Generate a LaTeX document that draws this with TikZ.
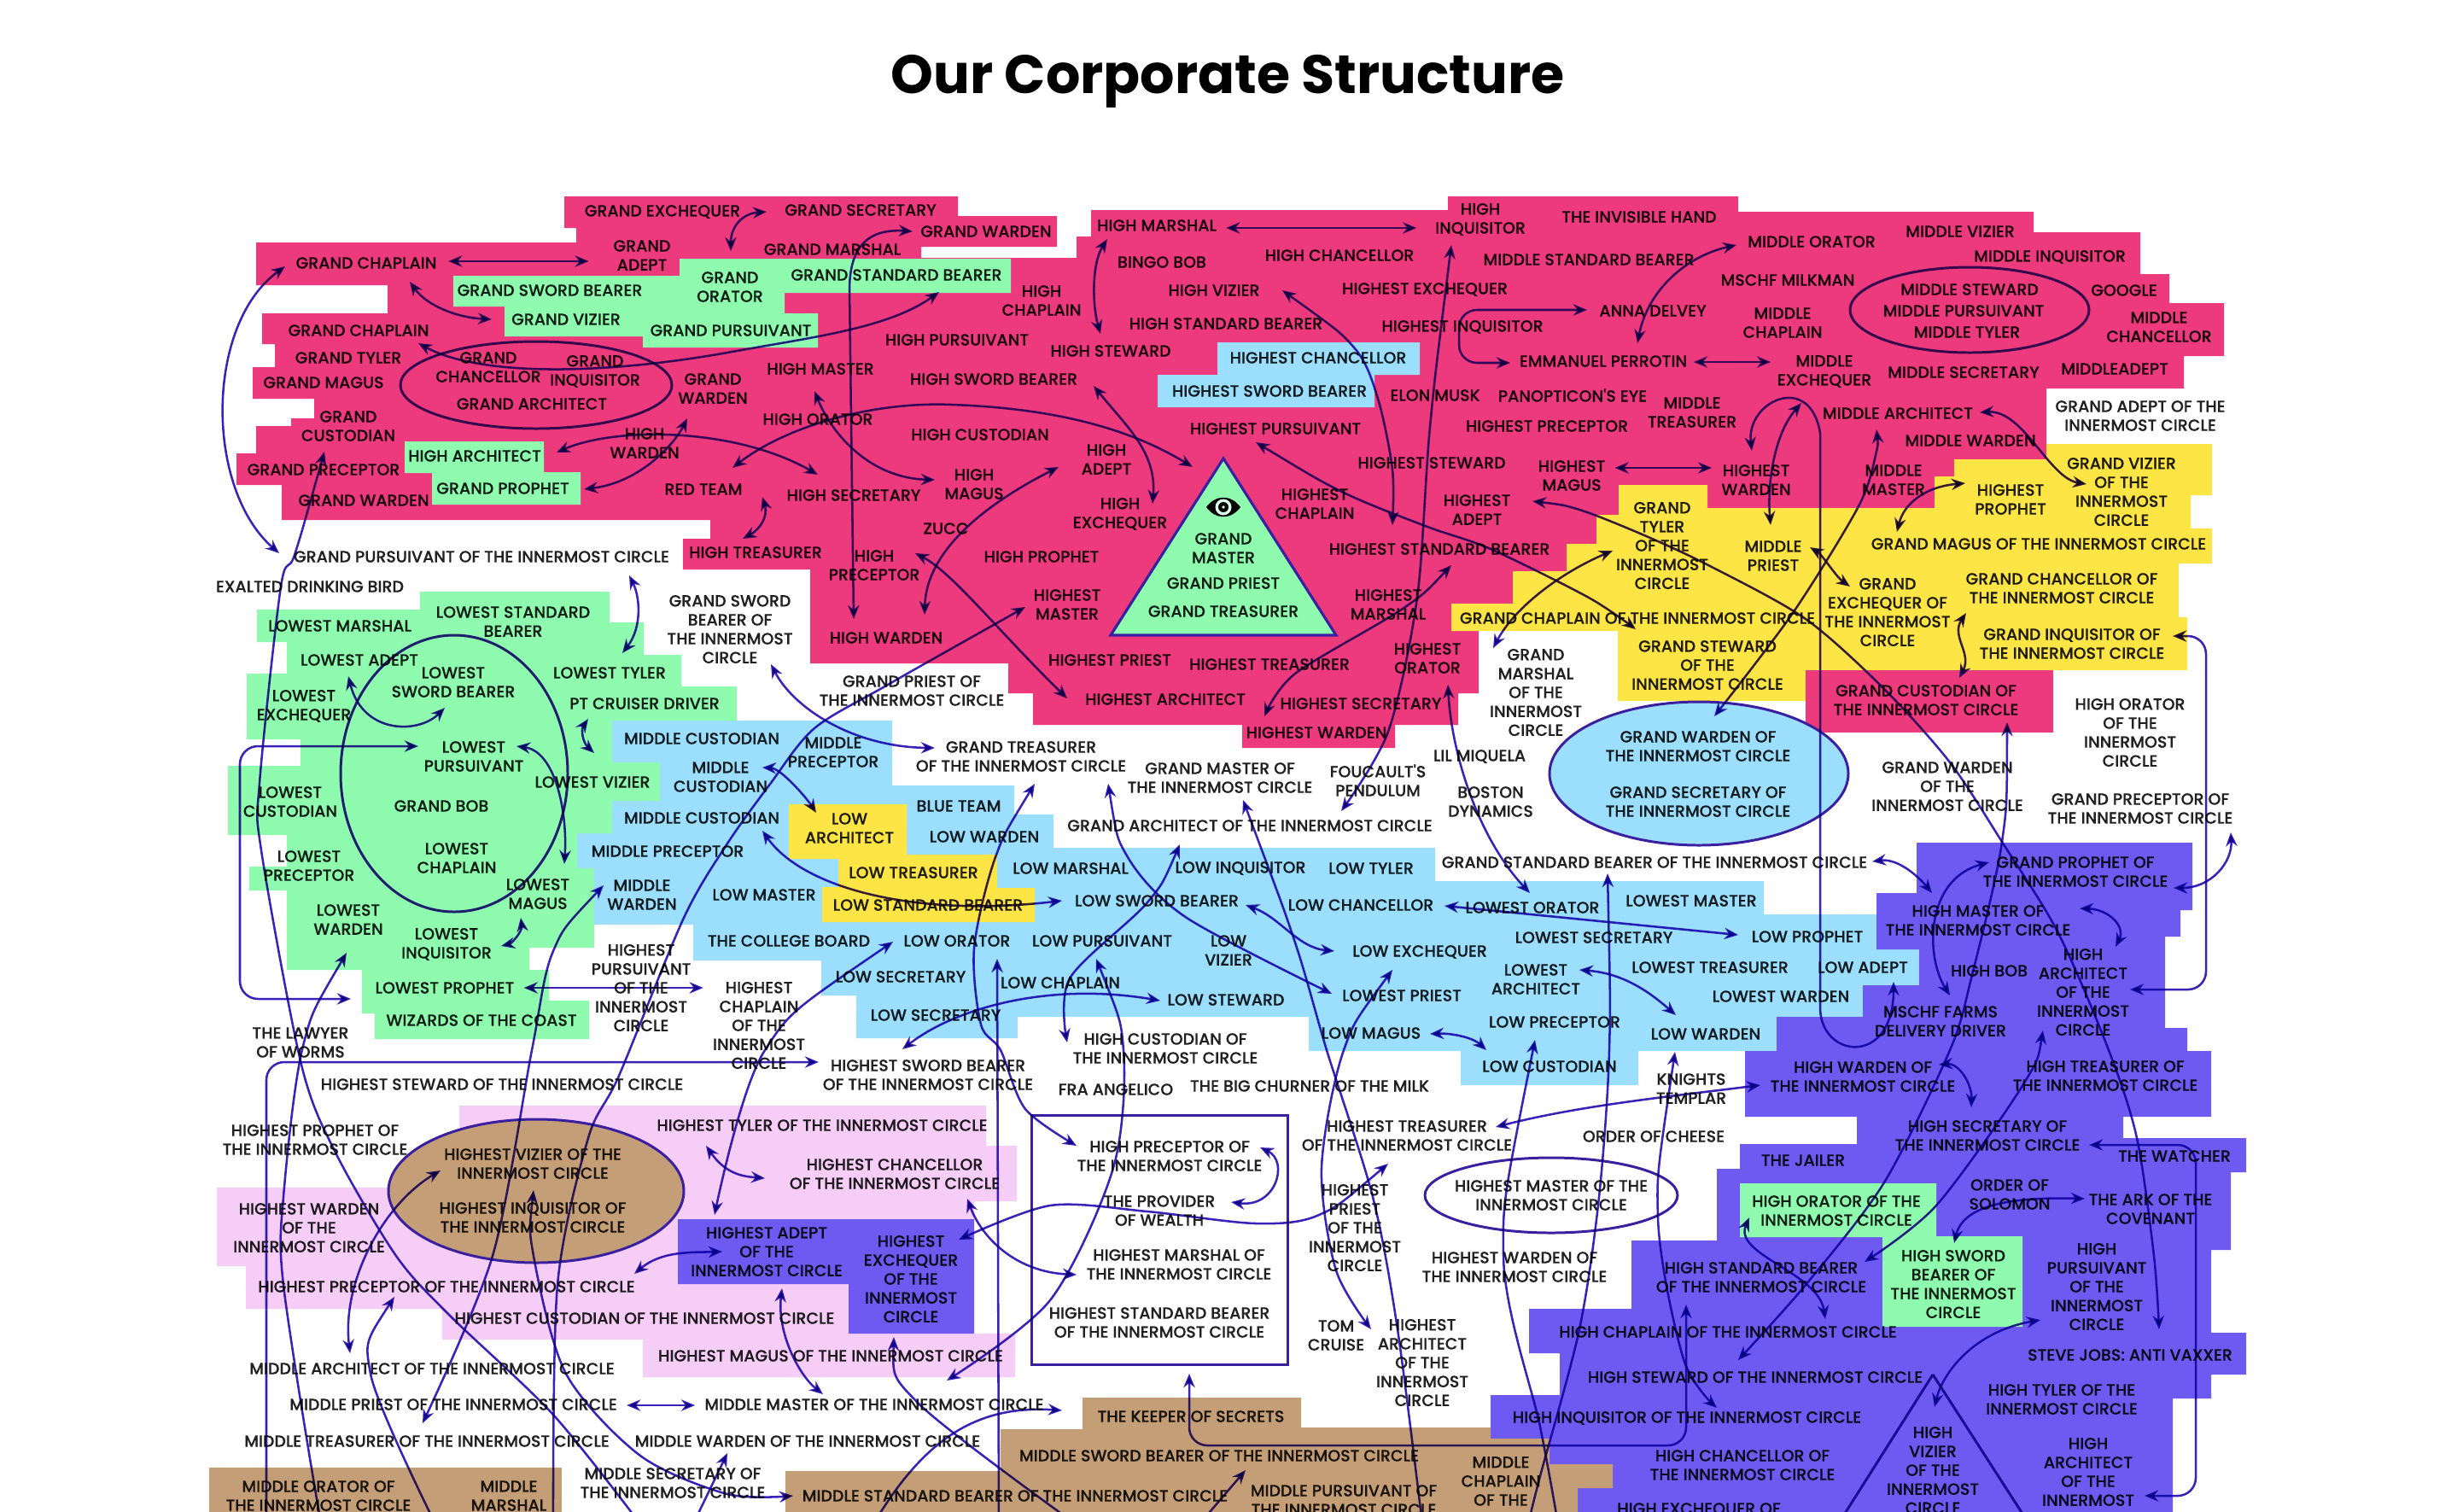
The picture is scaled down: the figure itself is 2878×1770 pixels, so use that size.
\documentclass[tikz,border=0pt]{standalone}
\usepackage{fontspec}
\setmainfont{Poppins}
\newfontfamily\medfont{Poppins Medium}[FakeBold=0.35]
\usetikzlibrary{arrows.meta}
\definecolor{redzone}{HTML}{EC3A7C}
\definecolor{yellowzone}{HTML}{FDE545}
\definecolor{greenzone}{HTML}{8EFBAF}
\definecolor{bluezone}{HTML}{9BDEFD}
\definecolor{violetzone}{HTML}{6E5AF0}
\definecolor{lilaczone}{HTML}{F5CDF6}
\definecolor{tanzone}{HTML}{C49E76}
\definecolor{linkcol}{HTML}{3A22B8}
\definecolor{ringcol}{HTML}{3A20A0}
\definecolor{inkcol}{HTML}{222222}
\tikzset
{
    lbl/.style  = {align=center, inner sep=0pt, text=inkcol, font=\medfont\fontsize{5.4}{6.3}\selectfont},
    link/.style = {draw=linkcol, line width=0.72pt, >={Stealth[length=4.6pt,width=3.8pt]}},
    ring/.style = {draw=ringcol, line width=0.85pt}
}
\begin{document}
\begin{tikzpicture}[x=0.1mm,y=-0.1mm]
\useasboundingbox (0,0) rectangle (2878,1770);
\clip (0,0) rectangle (2878,1770);
\node [inner sep=0pt, font=\bfseries\fontsize{18.05}{21}\selectfont] at (1438,95) (title) {Our Corporate Structure};
% zones
\fill [redzone] (661,230) -- (1122,230) -- (1122,253) -- (1238,253) -- (1238,289) -- (1079,289) -- (1079,302) -- (1261,302) -- (1261,277) -- (1278,277) -- (1278,246) -- (1696,246) -- (1696,230) -- (2036,230) -- (2036,248) -- (2382,248) -- (2382,272) -- (2507,272) -- (2507,321) -- (2541,321) -- (2541,355) -- (2605,355) -- (2605,417) -- (2558,417) -- (2558,455) -- (2397,455) -- (2397,538) -- (2289,538) -- (2289,558) -- (2266,558) -- (2266,595) -- (2000,595) -- (2000,568) -- (1896,568) -- (1896,603) -- (1870,603) -- (1870,650) -- (1800,700) -- (1732,720) -- (1732,812) -- (1708,812) -- (1708,849) -- (1634,849) -- (1634,876) -- (1455,876) -- (1455,849) -- (1210,849) -- (1210,812) -- (1181,812) -- (1181,777) -- (949,777) -- (949,667) -- (800,667) -- (800,631) -- (832,631) -- (832,609) -- (330,609) -- (330,568) -- (277,568) -- (277,531) -- (300,531) -- (300,499) -- (341,499) -- (341,490) -- (368,490) -- (368,467) -- (296,467) -- (296,430) -- (322,430) -- (322,403) -- (307,403) -- (307,367) -- (454,367) -- (454,334) -- (300,334) -- (300,284) -- (675,284) -- (675,267) -- (661,267) -- cycle;
\fill [greenzone] (531,323) -- (796,323) -- (796,303) -- (1184,303) -- (1184,343) -- (919,343) -- (919,367) -- (958,367) -- (958,407) -- (753,407) -- (753,394) -- (591,394) -- (591,359) -- (531,359) -- cycle;
\fill [greenzone] (474,517) -- (637,517) -- (637,553) -- (680,553) -- (680,591) -- (506,591) -- (506,554) -- (474,554) -- cycle;
\fill [bluezone] (1426,401) -- (1663,401) -- (1663,439) -- (1610,439) -- (1610,477) -- (1356,477) -- (1356,439) -- (1426,439) -- cycle;
\fill [yellowzone] (1700,707) -- (1772,707) -- (1772,669) -- (1835,669) -- (1835,637) -- (1870,637) -- (1870,603) -- (1896,603) -- (1896,568) -- (2000,568) -- (2000,595) -- (2266,595) -- (2266,558) -- (2289,558) -- (2289,538) -- (2397,538) -- (2397,520) -- (2591,520) -- (2591,580) -- (2566,580) -- (2566,619) -- (2591,619) -- (2591,660) -- (2552,660) -- (2552,723) -- (2562,723) -- (2562,785) -- (2115,785) -- (2115,821) -- (1895,821) -- (1895,739) -- (1700,739) -- cycle;
\fill [redzone] (2115,785) rectangle (2405,858);
\fill [bluezone] (717,844) -- (1045,844) -- (1045,920) -- (1188,920) -- (1188,954) -- (1234,954) -- (1234,993) -- (1681,993) -- (1681,1032) -- (2066,1032) -- (2066,1071) -- (2198,1071) -- (2198,1112) -- (2248,1112) -- (2248,1154) -- (2182,1154) -- (2182,1191) -- (2081,1191) -- (2081,1231) -- (1919,1231) -- (1919,1271) -- (1711,1271) -- (1711,1231) -- (1533,1231) -- (1533,1191) -- (1192,1191) -- (1192,1216) -- (1003,1216) -- (1003,1166) -- (962,1166) -- (962,1125) -- (812,1125) -- (812,1083) -- (676,1083) -- (676,976) -- (717,976) -- cycle;
\fill [yellowzone] (924,942) -- (1062,942) -- (1062,1001) -- (1168,1001) -- (1168,1040) -- (1212,1040) -- (1212,1080) -- (963,1080) -- (963,1039) -- (982,1039) -- (982,1006) -- (924,1006) -- cycle;
\fill [greenzone] (492,693) -- (714,693) -- (714,729) -- (754,729) -- (754,767) -- (798,767) -- (798,804) -- (863,804) -- (863,844) -- (717,844) -- (717,893) -- (773,893) -- (773,938) -- (717,938) -- (717,976) -- (676,976) -- (676,1017) -- (696,1017) -- (696,1110) -- (620,1110) -- (620,1136) -- (643,1136) -- (643,1172) -- (690,1172) -- (690,1217) -- (439,1217) -- (439,1187) -- (424,1187) -- (424,1136) -- (336,1136) -- (336,1043) -- (292,1043) -- (292,1015) -- (336,1015) -- (336,978) -- (267,978) -- (267,897) -- (352,897) -- (352,866) -- (289,866) -- (289,789) -- (336,789) -- (336,752) -- (301,752) -- (301,714) -- (492,714) -- cycle;
\fill [violetzone] (2245,987) -- (2568,987) -- (2568,1066) -- (2554,1066) -- (2554,1097) -- (2536,1097) -- (2536,1204) -- (2562,1204) -- (2562,1231) -- (2590,1231) -- (2590,1308) -- (2487,1308) -- (2487,1333) -- (2631,1333) -- (2631,1373) -- (2613,1373) -- (2613,1464) -- (2590,1464) -- (2590,1561) -- (2631,1561) -- (2631,1610) -- (2590,1610) -- (2590,1638) -- (2545,1638) -- (2545,1790) -- (1800,1790) -- (1800,1685) -- (1746,1685) -- (1746,1634) -- (1827,1634) -- (1827,1585) -- (1791,1585) -- (1791,1533) -- (1911,1533) -- (1911,1453) -- (2011,1453) -- (2011,1369) -- (2038,1369) -- (2038,1340) -- (2175,1340) -- (2175,1308) -- (2044,1308) -- (2044,1231) -- (2081,1231) -- (2081,1191) -- (2182,1191) -- (2182,1154) -- (2248,1154) -- (2248,1112) -- (2198,1112) -- (2198,1046) -- (2245,1046) -- cycle;
\fill [greenzone] (2038,1386) -- (2268,1386) -- (2268,1448) -- (2369,1448) -- (2369,1554) -- (2205,1554) -- (2205,1449) -- (2038,1449) -- cycle;
\fill [lilaczone] (538,1295) -- (1155,1295) -- (1155,1342) -- (1191,1342) -- (1191,1407) -- (1141,1407) -- (1141,1562) -- (1189,1562) -- (1189,1613) -- (753,1613) -- (753,1569) -- (518,1569) -- (518,1533) -- (288,1533) -- (288,1483) -- (254,1483) -- (254,1391) -- (538,1391) -- cycle;
\fill [violetzone] (794,1428) -- (1141,1428) -- (1141,1562) -- (994,1562) -- (994,1504) -- (794,1504) -- cycle;
\fill [tanzone] (245,1719) rectangle (658,1790);
\fill [tanzone] (920,1723) -- (1172,1723) -- (1172,1674) -- (1268,1674) -- (1268,1637) -- (1524,1637) -- (1524,1672) -- (1746,1672) -- (1746,1685) -- (1815,1685) -- (1815,1715) -- (1889,1715) -- (1889,1743) -- (1848,1743) -- (1848,1790) -- (920,1790) -- cycle;
\filldraw [fill=greenzone, draw=ringcol, line width=0.9pt] (1433,537) -- (1565,744) -- (1301,744) -- cycle;
\fill [black] (1413,594) .. controls (1424,579) and (1442,579) .. (1453,594) .. controls (1442,609) and (1424,609) .. (1413,594) -- cycle;
\fill [greenzone!30!white] (1433,594) circle (9.5);
\fill [black] (1433,594) circle (6);
\fill [greenzone!30!white] (1433,594) circle (1.8);
\filldraw [fill=bluezone, ring] (1990,906) ellipse (175 and 84);
\filldraw [fill=tanzone, ring] (628,1395) ellipse (173 and 84);
\begin{scope}[blend mode=multiply]
\draw [ring] (628,451) ellipse (159 and 51);
\draw [ring] (2307,363) ellipse (140 and 50);
\draw [ring] (532,906) ellipse (133 and 162);
\draw [ring] (1817,1400) ellipse (148 and 44);
\draw [ring] (1208,1306) rectangle (1508,1598);
\draw [ring] (2264,1610) -- (2150,1790);
\draw [ring] (2264,1610) -- (2380,1790);
% labels
\node [lbl] at (776,248) (gexch) {GRAND EXCHEQUER};
\node [lbl] at (1008,246) (gsecr) {GRAND SECRETARY};
\node [lbl] at (752,299) (gadept) {GRAND\\ADEPT};
\node [lbl] at (975,292) (gmarsh) {GRAND MARSHAL};
\node [lbl] at (1155,271) (gwardtop) {GRAND WARDEN};
\node [lbl] at (429,308) (gchapa) {GRAND CHAPLAIN};
\node [lbl] at (644,340) (gsword) {GRAND SWORD BEARER};
\node [lbl] at (855,336) (gorator) {GRAND\\ORATOR};
\node [lbl] at (1050,322) (gstand) {GRAND STANDARD BEARER};
\node [lbl] at (663,374) (gvizier) {GRAND VIZIER};
\node [lbl] at (856,387) (gpurs) {GRAND PURSUIVANT};
\node [lbl] at (420,387) (gchapb) {GRAND CHAPLAIN};
\node [lbl] at (408,419) (gtyler) {GRAND TYLER};
\node [lbl] at (379,448) (gmagus) {GRAND MAGUS};
\node [lbl] at (572,430) (gchanc) {GRAND\\CHANCELLOR};
\node [lbl] at (697,435) (ginq) {GRAND\\INQUISITOR};
\node [lbl] at (623,473) (garch) {GRAND ARCHITECT};
\node [lbl] at (835,455) (gwardb) {GRAND\\WARDEN};
\node [lbl] at (961,432) (hmaster) {HIGH MASTER};
\node [lbl] at (958,491) (horator) {HIGH ORATOR};
\node [lbl] at (755,519) (hwarden) {HIGH\\WARDEN};
\node [lbl] at (408,499) (gcust) {GRAND\\CUSTODIAN};
\node [lbl] at (556,534) (harch) {HIGH ARCHITECT};
\node [lbl] at (379,550) (gprec) {GRAND PRECEPTOR};
\node [lbl] at (589,572) (gproph) {GRAND PROPHET};
\node [lbl] at (426,586) (gwardc) {GRAND WARDEN};
\node [lbl] at (824,573) (redteam) {RED TEAM};
\node [lbl] at (1000,580) (hsecr) {HIGH SECRETARY};
\node [lbl] at (564,652) (gpursi) {GRAND PURSUIVANT OF THE INNERMOST CIRCLE};
\node [lbl] at (885,647) (htreas) {HIGH TREASURER};
\node [lbl] at (363,687) (bird) {EXALTED DRINKING BIRD};
\node [lbl] at (1024,662) (hprec) {HIGH\\PRECEPTOR};
\node [lbl] at (1355,264) (hmarsh) {HIGH MARSHAL};
\node [lbl] at (1734,257) (hinq) {HIGH\\INQUISITOR};
\node [lbl] at (1361,307) (bingo) {BINGO BOB};
\node [lbl] at (1569,299) (hchanc) {HIGH CHANCELLOR};
\node [lbl] at (1920,254) (invis) {THE INVISIBLE HAND};
\node [lbl] at (1861,304) (mstand) {MIDDLE STANDARD BEARER};
\node [lbl] at (1220,352) (hchap) {HIGH\\CHAPLAIN};
\node [lbl] at (1422,340) (hvizier) {HIGH VIZIER};
\node [lbl] at (1669,339) (hexexch) {HIGHEST EXCHEQUER};
\node [lbl] at (1436,379) (hstand) {HIGH STANDARD BEARER};
\node [lbl] at (1713,383) (hexinq) {HIGHEST INQUISITOR};
\node [lbl] at (1121,398) (hpurs) {HIGH PURSUIVANT};
\node [lbl] at (1301,411) (hsteward) {HIGH STEWARD};
\node [lbl] at (1544,419) (hexchanc) {HIGHEST CHANCELLOR};
\node [lbl] at (1164,444) (hsword) {HIGH SWORD BEARER};
\node [lbl] at (1487,458) (hexsword) {HIGHEST SWORD BEARER};
\node [lbl] at (1681,463) (elon) {ELON MUSK};
\node [lbl] at (1842,463) (panop) {PANOPTICON'S EYE};
\node [lbl] at (1494,502) (hexpurs) {HIGHEST PURSUIVANT};
\node [lbl] at (1812,499) (hexprec) {HIGHEST PRECEPTOR};
\node [lbl] at (1148,509) (hcust) {HIGH CUSTODIAN};
\node [lbl] at (1296,538) (hadept) {HIGH\\ADEPT};
\node [lbl] at (1141,567) (hmagus) {HIGH\\MAGUS};
\node [lbl] at (1677,542) (hexstew) {HIGHEST STEWARD};
\node [lbl] at (1841,557) (hexmag) {HIGHEST\\MAGUS};
\node [lbl] at (1540,590) (hexchap) {HIGHEST\\CHAPLAIN};
\node [lbl] at (1730,597) (hexadept) {HIGHEST\\ADEPT};
\node [lbl] at (1312,602) (hexch) {HIGH\\EXCHEQUER};
\node [lbl] at (1108,619) (zucc) {ZUCC};
\node [lbl] at (1220,652) (hproph) {HIGH PROPHET};
\node [lbl] at (1433,642) (gmaster) {GRAND\\MASTER};
\node [lbl] at (1433,683) (gpriest) {GRAND PRIEST};
\node [lbl] at (1433,716) (gtreas) {GRAND TREASURER};
\node [lbl] at (1686,643) (hexstand) {HIGHEST STANDARD BEARER};
\node [lbl] at (1250,708) (hexmast) {HIGHEST\\MASTER};
\node [lbl] at (1626,708) (hexmarsh) {HIGHEST\\MARSHAL};
\node [lbl] at (2122,283) (morator) {MIDDLE ORATOR};
\node [lbl] at (2296,271) (mvizier) {MIDDLE VIZIER};
\node [lbl] at (2401,301) (minq) {MIDDLE INQUISITOR};
\node [lbl] at (2094,328) (milkman) {MSCHF MILKMAN};
\node [lbl] at (1936,364) (anna) {ANNA DELVEY};
\node [lbl] at (2088,378) (mchap) {MIDDLE\\CHAPLAIN};
\node [lbl] at (2307,339) (mstew) {MIDDLE STEWARD};
\node [lbl] at (2300,364) (mpurs) {MIDDLE PURSUIVANT};
\node [lbl] at (2304,389) (mtyler) {MIDDLE TYLER};
\node [lbl] at (2488,340) (google) {GOOGLE};
\node [lbl] at (2529,383) (mchanc) {MIDDLE\\CHANCELLOR};
\node [lbl] at (1878,423) (emmanuel) {EMMANUEL PERROTIN};
\node [lbl] at (2137,435) (mexch) {MIDDLE\\EXCHEQUER};
\node [lbl] at (2300,436) (msecr) {MIDDLE SECRETARY};
\node [lbl] at (2477,432) (madept) {MIDDLEADEPT};
\node [lbl] at (1982,483) (mtreas) {MIDDLE\\TREASURER};
\node [lbl] at (2223,484) (march) {MIDDLE ARCHITECT};
\node [lbl] at (2308,516) (mward) {MIDDLE WARDEN};
\node [lbl] at (2507,487) (giadept) {GRAND ADEPT OF THE\\INNERMOST CIRCLE};
\node [lbl] at (2485,576) (givizier) {GRAND VIZIER\\OF THE\\INNERMOST\\CIRCLE};
\node [lbl] at (2057,562) (hexward) {HIGHEST\\WARDEN};
\node [lbl] at (2218,562) (mmaster) {MIDDLE\\MASTER};
\node [lbl] at (2355,585) (hexproph) {HIGHEST\\PROPHET};
\node [lbl] at (1947,639) (gityler) {GRAND\\TYLER\\OF THE\\INNERMOST\\CIRCLE};
\node [lbl] at (2077,651) (mpriest) {MIDDLE\\PRIEST};
\node [lbl] at (2388,637) (gimagus) {GRAND MAGUS OF THE INNERMOST CIRCLE};
\node [lbl] at (2211,717) (giexch) {GRAND\\EXCHEQUER OF\\THE INNERMOST\\CIRCLE};
\node [lbl] at (2415,689) (gichanc) {GRAND CHANCELLOR OF\\THE INNERMOST CIRCLE};
\node [lbl] at (1918,724) (gichap) {GRAND CHAPLAIN OF THE INNERMOST CIRCLE};
\node [lbl] at (2427,754) (giinq) {GRAND INQUISITOR OF\\THE INNERMOST CIRCLE};
\node [lbl] at (2000,779) (gistew) {GRAND STEWARD\\OF THE\\INNERMOST CIRCLE};
\node [lbl] at (2256,820) (gicust) {GRAND CUSTODIAN OF\\THE INNERMOST CIRCLE};
\node [lbl] at (2495,858) (hiorator) {HIGH ORATOR\\OF THE\\INNERMOST\\CIRCLE};
\node [lbl] at (1989,874) (giwarda) {GRAND WARDEN OF\\THE INNERMOST CIRCLE};
\node [lbl] at (1989,939) (gisecr) {GRAND SECRETARY OF\\THE INNERMOST CIRCLE};
\node [lbl] at (2281,921) (giwardb) {GRAND WARDEN\\OF THE\\INNERMOST CIRCLE};
\node [lbl] at (2507,947) (giprec) {GRAND PRECEPTOR OF\\THE INNERMOST CIRCLE};
\node [lbl] at (1938,1010) (gistand) {GRAND STANDARD BEARER OF THE INNERMOST CIRCLE};
\node [lbl] at (2431,1021) (giproph) {GRAND PROPHET OF\\THE INNERMOST CIRCLE};
\node [lbl] at (1981,1055) (lomast) {LOWEST MASTER};
\node [lbl] at (2317,1078) (himast) {HIGH MASTER OF\\THE INNERMOST CIRCLE};
\node [lbl] at (2117,1097) (lproph) {LOW PROPHET};
\node [lbl] at (1867,1098) (losecr) {LOWEST SECRETARY};
\node [lbl] at (2003,1133) (lotreas) {LOWEST TREASURER};
\node [lbl] at (2182,1133) (ladept) {LOW ADEPT};
\node [lbl] at (2086,1167) (loward) {LOWEST WARDEN};
\node [lbl] at (2330,1137) (hbob) {HIGH BOB};
\node [lbl] at (2440,1162) (hiarch) {HIGH\\ARCHITECT\\OF THE\\INNERMOST\\CIRCLE};
\node [lbl] at (2273,1196) (farms) {MSCHF FARMS\\DELIVERY DRIVER};
\node [lbl] at (1998,1211) (lward) {LOW WARDEN};
\node [lbl] at (601,728) (lostand) {LOWEST STANDARD\\BEARER};
\node [lbl] at (398,733) (lomarsh) {LOWEST MARSHAL};
\node [lbl] at (421,773) (loadept) {LOWEST ADEPT};
\node [lbl] at (531,799) (losword) {LOWEST\\SWORD BEARER};
\node [lbl] at (714,788) (lotyler) {LOWEST TYLER};
\node [lbl] at (356,827) (loexch) {LOWEST\\EXCHEQUER};
\node [lbl] at (755,824) (cruiser) {PT CRUISER DRIVER};
\node [lbl] at (822,865) (mcusta) {MIDDLE CUSTODIAN};
\node [lbl] at (976,881) (mpreca) {MIDDLE\\PRECEPTOR};
\node [lbl] at (844,910) (mcustb) {MIDDLE\\CUSTODIAN};
\node [lbl] at (555,886) (lopurs) {LOWEST\\PURSUIVANT};
\node [lbl] at (694,916) (lovizier) {LOWEST VIZIER};
\node [lbl] at (340,939) (locust) {LOWEST\\CUSTODIAN};
\node [lbl] at (517,944) (gbob) {GRAND BOB};
\node [lbl] at (822,958) (mcustc) {MIDDLE CUSTODIAN};
\node [lbl] at (782,997) (mprecb) {MIDDLE PRECEPTOR};
\node [lbl] at (995,970) (larch) {LOW\\ARCHITECT};
\node [lbl] at (362,1014) (loprec) {LOWEST\\PRECEPTOR};
\node [lbl] at (535,1005) (lochap) {LOWEST\\CHAPLAIN};
\node [lbl] at (630,1047) (lomagus) {LOWEST\\MAGUS};
\node [lbl] at (752,1048) (mwarda) {MIDDLE\\WARDEN};
\node [lbl] at (895,1048) (lmaster) {LOW MASTER};
\node [lbl] at (1070,1022) (ltreas) {LOW TREASURER};
\node [lbl] at (1087,1060) (lstand) {LOW STANDARD BEARER};
\node [lbl] at (408,1077) (lowarb) {LOWEST\\WARDEN};
\node [lbl] at (924,1102) (college) {THE COLLEGE BOARD};
\node [lbl] at (523,1106) (loinq) {LOWEST\\INQUISITOR};
\node [lbl] at (751,1157) (hipurs) {HIGHEST\\PURSUIVANT\\OF THE\\INNERMOST\\CIRCLE};
\node [lbl] at (521,1157) (loproph) {LOWEST PROPHET};
\node [lbl] at (564,1195) (wizards) {WIZARDS OF THE COAST};
\node [lbl] at (889,1201) (hichap) {HIGHEST\\CHAPLAIN\\OF THE\\INNERMOST\\CIRCLE};
\node [lbl] at (352,1221) (lawyer) {THE LAWYER\\OF WORMS};
\node [lbl] at (1038,747) (hward) {HIGH WARDEN};
\node [lbl] at (1300,773) (hexpriest) {HIGHEST PRIEST};
\node [lbl] at (1487,778) (hextreas) {HIGHEST TREASURER};
\node [lbl] at (1672,771) (hexorat) {HIGHEST\\ORATOR};
\node [lbl] at (1365,819) (hexarch) {HIGHEST ARCHITECT};
\node [lbl] at (1594,824) (hexsecr) {HIGHEST SECRETARY};
\node [lbl] at (1542,858) (hexwarb) {HIGHEST WARDEN};
\node [lbl] at (1068,809) (gipriest) {GRAND PRIEST OF\\THE INNERMOST CIRCLE};
\node [lbl] at (1196,886) (gitreas) {GRAND TREASURER\\OF THE INNERMOST CIRCLE};
\node [lbl] at (855,737) (gisword) {GRAND SWORD\\BEARER OF\\THE INNERMOST\\CIRCLE};
\node [lbl] at (1429,911) (gimast) {GRAND MASTER OF\\THE INNERMOST CIRCLE};
\node [lbl] at (1614,914) (foucault) {FOUCAULT'S\\PENDULUM};
\node [lbl] at (1733,886) (miquela) {LIL MIQUELA};
\node [lbl] at (1746,939) (boston) {BOSTON\\DYNAMICS};
\node [lbl] at (1799,811) (gimarsh) {GRAND\\MARSHAL\\OF THE\\INNERMOST\\CIRCLE};
\node [lbl] at (1123,944) (blueteam) {BLUE TEAM};
\node [lbl] at (1153,980) (lwardb) {LOW WARDEN};
\node [lbl] at (1464,967) (giarch) {GRAND ARCHITECT OF THE INNERMOST CIRCLE};
\node [lbl] at (1254,1017) (lmarsh) {LOW MARSHAL};
\node [lbl] at (1453,1017) (linq) {LOW INQUISITOR};
\node [lbl] at (1606,1017) (ltyler) {LOW TYLER};
\node [lbl] at (1355,1055) (lsword) {LOW SWORD BEARER};
\node [lbl] at (1594,1060) (lchanc) {LOW CHANCELLOR};
\node [lbl] at (1795,1063) (loorat) {LOWEST ORATOR};
\node [lbl] at (1121,1102) (lorat) {LOW ORATOR};
\node [lbl] at (1291,1102) (lpurs) {LOW PURSUIVANT};
\node [lbl] at (1439,1113) (lvizier) {LOW\\VIZIER};
\node [lbl] at (1663,1115) (lexch) {LOW EXCHEQUER};
\node [lbl] at (1799,1147) (loarch) {LOWEST\\ARCHITECT};
\node [lbl] at (1055,1144) (lsecra) {LOW SECRETARY};
\node [lbl] at (1242,1151) (lchap) {LOW CHAPLAIN};
\node [lbl] at (1436,1171) (lstew) {LOW STEWARD};
\node [lbl] at (1642,1166) (lopriest) {LOWEST PRIEST};
\node [lbl] at (1096,1189) (lsecrb) {LOW SECRETARY};
\node [lbl] at (1606,1210) (lmagus) {LOW MAGUS};
\node [lbl] at (1821,1197) (lprec) {LOW PRECEPTOR};
\node [lbl] at (1365,1228) (hicust) {HIGH CUSTODIAN OF\\THE INNERMOST CIRCLE};
\node [lbl] at (1815,1249) (lcust) {LOW CUSTODIAN};
\node [lbl] at (588,1270) (histew) {HIGHEST STEWARD OF THE INNERMOST CIRCLE};
\node [lbl] at (1087,1259) (hisword) {HIGHEST SWORD BEARER\\OF THE INNERMOST CIRCLE};
\node [lbl] at (1307,1276) (angelico) {FRA ANGELICO};
\node [lbl] at (1534,1272) (churner) {THE BIG CHURNER OF THE MILK};
\node [lbl] at (1981,1275) (knights) {KNIGHTS\\TEMPLAR};
\node [lbl] at (1937,1331) (cheese) {ORDER OF CHEESE};
\node [lbl] at (1648,1330) (hitreas) {HIGHEST TREASURER\\OF THE INNERMOST CIRCLE};
\node [lbl] at (963,1318) (hityler) {HIGHEST TYLER OF THE INNERMOST CIRCLE};
\node [lbl] at (369,1335) (hiproph) {HIGHEST PROPHET OF\\THE INNERMOST CIRCLE};
\node [lbl] at (624,1363) (hivizier) {HIGHEST VIZIER OF THE\\INNERMOST CIRCLE};
\node [lbl] at (624,1426) (hiinq) {HIGHEST INQUISITOR OF\\THE INNERMOST CIRCLE};
\node [lbl] at (1048,1375) (hichanc) {HIGHEST CHANCELLOR\\OF THE INNERMOST CIRCLE};
\node [lbl] at (1370,1354) (higprec) {HIGH PRECEPTOR OF\\THE INNERMOST CIRCLE};
\node [lbl] at (1358,1418) (provider) {THE PROVIDER\\OF WEALTH};
\node [lbl] at (1381,1481) (himarsh) {HIGHEST MARSHAL OF\\THE INNERMOST CIRCLE};
\node [lbl] at (1358,1549) (histand) {HIGHEST STANDARD BEARER\\OF THE INNERMOST CIRCLE};
\node [lbl] at (362,1438) (hiwarda) {HIGHEST WARDEN\\OF THE\\INNERMOST CIRCLE};
\node [lbl] at (898,1466) (hiadept) {HIGHEST ADEPT\\OF THE\\INNERMOST CIRCLE};
\node [lbl] at (1067,1498) (hiexch) {HIGHEST\\EXCHEQUER\\OF THE\\INNERMOST\\CIRCLE};
\node [lbl] at (523,1507) (hiprec) {HIGHEST PRECEPTOR OF THE INNERMOST CIRCLE};
\node [lbl] at (755,1544) (hicusb) {HIGHEST CUSTODIAN OF THE INNERMOST CIRCLE};
\node [lbl] at (973,1588) (himagus) {HIGHEST MAGUS OF THE INNERMOST CIRCLE};
\node [lbl] at (506,1603) (miarch) {MIDDLE ARCHITECT OF THE INNERMOST CIRCLE};
\node [lbl] at (531,1645) (mipriest) {MIDDLE PRIEST OF THE INNERMOST CIRCLE};
\node [lbl] at (1024,1645) (mimast) {MIDDLE MASTER OF THE INNERMOST CIRCLE};
\node [lbl] at (500,1688) (mitreas) {MIDDLE TREASURER OF THE INNERMOST CIRCLE};
\node [lbl] at (946,1688) (miward) {MIDDLE WARDEN OF THE INNERMOST CIRCLE};
\node [lbl] at (373,1752) (miorat) {MIDDLE ORATOR OF\\THE INNERMOST CIRCLE};
\node [lbl] at (596,1752) (mmarsh) {MIDDLE\\MARSHAL};
\node [lbl] at (788,1737) (misecr) {MIDDLE SECRETARY OF\\THE INNERMOST CIRCLE};
\node [lbl] at (1189,1752) (mistand) {MIDDLE STANDARD BEARER OF THE INNERMOST CIRCLE};
\node [lbl] at (1395,1659) (keeper) {THE KEEPER OF SECRETS};
\node [lbl] at (1428,1705) (misword) {MIDDLE SWORD BEARER OF THE INNERMOST CIRCLE};
\node [lbl] at (1574,1757) (mipurs) {MIDDLE PURSUIVANT OF\\THE INNERMOST CIRCLE};
\node [lbl] at (1758,1757) (michap) {MIDDLE\\CHAPLAIN\\OF THE\\INNERMOST\\CIRCLE};
\node [lbl] at (1587,1438) (hipriest) {HIGHEST\\PRIEST\\OF THE\\INNERMOST\\CIRCLE};
\node [lbl] at (1817,1400) (himaster) {HIGHEST MASTER OF THE\\INNERMOST CIRCLE};
\node [lbl] at (1774,1484) (hiwardb) {HIGHEST WARDEN OF\\THE INNERMOST CIRCLE};
\node [lbl] at (1565,1564) (tom) {TOM\\CRUISE};
\node [lbl] at (1666,1596) (hiarchb) {HIGHEST\\ARCHITECT\\OF THE\\INNERMOST\\CIRCLE};
\node [lbl] at (2182,1261) (hgward) {HIGH WARDEN OF\\THE INNERMOST CIRCLE};
\node [lbl] at (2466,1260) (hgtreas) {HIGH TREASURER OF\\THE INNERMOST CIRCLE};
\node [lbl] at (2328,1330) (hgsecr) {HIGH SECRETARY OF\\THE INNERMOST CIRCLE};
\node [lbl] at (2112,1359) (jailer) {THE JAILER};
\node [lbl] at (2547,1354) (watcher) {THE WATCHER};
\node [lbl] at (2151,1418) (hgorat) {HIGH ORATOR OF THE\\INNERMOST CIRCLE};
\node [lbl] at (2354,1399) (solomon) {ORDER OF\\SOLOMON};
\node [lbl] at (2519,1416) (ark) {THE ARK OF THE\\COVENANT};
\node [lbl] at (2063,1496) (hgstand) {HIGH STANDARD BEARER\\OF THE INNERMOST CIRCLE};
\node [lbl] at (2288,1504) (hgsword) {HIGH SWORD\\BEARER OF\\THE INNERMOST\\CIRCLE};
\node [lbl] at (2456,1507) (hgpurs) {HIGH\\PURSUIVANT\\OF THE\\INNERMOST\\CIRCLE};
\node [lbl] at (2024,1560) (hgchap) {HIGH CHAPLAIN OF THE INNERMOST CIRCLE};
\node [lbl] at (2495,1587) (jobs) {STEVE JOBS: ANTI VAXXER};
\node [lbl] at (2056,1613) (hgstew) {HIGH STEWARD OF THE INNERMOST CIRCLE};
\node [lbl] at (2415,1639) (hgtyler) {HIGH TYLER OF THE\\INNERMOST CIRCLE};
\node [lbl] at (1976,1661) (hginq) {HIGH INQUISITOR OF THE INNERMOST CIRCLE};
\node [lbl] at (2041,1716) (hgchanc) {HIGH CHANCELLOR OF\\THE INNERMOST CIRCLE};
\node [lbl] at (2264,1722) (hgvizier) {HIGH\\VIZIER\\OF THE\\INNERMOST\\CIRCLE};
\node [lbl] at (2446,1735) (hgarch) {HIGH\\ARCHITECT\\OF THE\\INNERMOST\\CIRCLE};
\node [lbl] at (1990,1778) (hgexch) {HIGH EXCHEQUER OF\\THE INNERMOST CIRCLE};
% straight links
\draw [link,<->,shorten <=3.7pt,shorten >=8pt] (gchapa.east |- 0,306) -- (gadept.west |- 0,306);
\draw [link,<->,shorten <=3pt,shorten >=6pt] (hmarsh.east |- 0,267) -- (hinq.west |- 0,267);
\draw [link,<->,shorten <=2pt,shorten >=2pt] (emmanuel.east |- 0,424) -- (mexch.west |- 0,424);
\draw [link,<->,shorten <=3pt,shorten >=3pt] (hexmag.east |- 0,548) -- (hexward.west |- 0,548);
\draw [link,<->,shorten <=3pt,shorten >=3pt] (mipriest.east |- 0,1646) -- (mimast.west |- 0,1646);
\draw [link,<->,shorten <=3pt,shorten >=3pt] (loproph.east |- 0,1157) -- (hichap.west |- 0,1157);
% curved links
\coordinate (a1) at (856,294); \coordinate (b1) at (898,248);
\draw [link,<->] (a1) .. controls (856,265) and (870,250) .. (b1);
\coordinate (a3) at (480,330); \coordinate (b3) at (576,374);
\draw [link,<->] (a3) .. controls (500,358) and (535,372) .. (b3);
\coordinate (a4) at (334,312); \coordinate (b4) at (327,648);
\draw [link,<->] (a4) .. controls (240,380) and (240,572) .. (b4);
\coordinate (a5) at (490,402); \coordinate (b5) at (1100,342);
\draw [link,<->] (a5) .. controls (560,440) and (700,440) .. (852,413) .. controls (950,395) and (1040,385) .. (b5);
\coordinate (a6) at (1069,271); \coordinate (b6) at (1000,725);
\draw [link,<->] (a6) .. controls (1020,268) and (995,285) .. (995,340) -- (b6);
\coordinate (a7) at (805,490); \coordinate (b7) at (684,573);
\draw [link,<->] (a7) .. controls (790,520) and (750,565) .. (b7);
\coordinate (a8) at (652,530); \coordinate (b8) at (958,556);
\draw [link,<->] (a8) .. controls (720,500) and (860,500) .. (b8);
\coordinate (a9) at (380,529); \coordinate (b9) at (750,1785);
\draw [link,<-] plot [smooth] coordinates {(a9) (345,650) (329,687) (304,917) (306,996) (353,1247) (393,1350) (464,1471) (526,1540) (648,1657) (b9)};
\coordinate (a10) at (406,1116); \coordinate (b10) at (385,1800);
\draw [link,<-] plot [smooth] coordinates {(a10) (355,1225) (332,1402) (332,1505) (373,1767) (b10)};
\coordinate (a12) at (893,582); \coordinate (b12) at (870,631);
\draw [link,<->] (a12) .. controls (900,605) and (890,620) .. (b12);
\coordinate (a13) at (858,548); \coordinate (b13) at (1397,547);
\draw [link,<->] (a13) .. controls (920,500) and (1020,470) .. (1115,474) .. controls (1230,478) and (1320,500) .. (b13);
\coordinate (a14) at (954,458); \coordinate (b14) at (1095,562);
\draw [link,<->] (a14) .. controls (975,510) and (1020,560) .. (b14);
\coordinate (a15) at (1297,280); \coordinate (b15) at (1289,391);
\draw [link,<->] (a15) .. controls (1278,310) and (1280,360) .. (b15);
\coordinate (a17) at (1502,340); \coordinate (b17) at (1631,615);
\draw [link,<->] plot [smooth] coordinates {(a17) (1586,407) (1614,467) (1631,550) (b17)};
\coordinate (a18) at (1700,287); \coordinate (b18) at (1571,950);
\draw [link,<->] plot [smooth] coordinates {(a18) (1675,500) (1660,700) (1626,857) (b18)};
\coordinate (a19) at (1859,363); \coordinate (b19) at (1769,425);
\draw [link,<->,rounded corners=6pt] (a19) -- (1709,363) -- (1709,425) -- (b19);
\coordinate (a20) at (1281,452); \coordinate (b20) at (1350,590);
\draw [link,<->] (a20) .. controls (1320,500) and (1355,530) .. (b20);
\coordinate (a21) at (1240,547); \coordinate (b21) at (1083,720);
\draw [link,<->] (a21) .. controls (1165,585) and (1085,640) .. (b21);
\coordinate (a22) at (1072,648); \coordinate (b22) at (1250,818);
\draw [link,<->] (a22) .. controls (1115,670) and (1170,740) .. (b22);
\coordinate (a23) at (1201,711); \coordinate (b23) at (648,1785);
\draw [link,<-] plot [smooth] coordinates {(a23) (1040,802) (954,853) (903,917) (852,988) (801,1075) (725,1260) (689,1333) (653,1505) (b23)};
\coordinate (a24) at (1471,518); \coordinate (b24) at (1916,737);
\draw [link,<->] plot [smooth] coordinates {(a24) (1574,577) (1672,617) (1746,643) (1861,700) (b24)};
\coordinate (a25) at (1795,587); \coordinate (b25) at (2529,1557);
\draw [link,<->] plot [smooth] coordinates {(a25) (1850,597) (1926,627) (2003,663) (2115,725) (2207,807) (2284,893) (2345,986) (2411,1093) (2470,1230) (2503,1333) (2523,1471) (b25)};
\coordinate (a26) at (1889,645); \coordinate (b26) at (1749,759);
\draw [link,<->] (a26) .. controls (1830,670) and (1775,710) .. (b26);
\coordinate (a27) at (1700,662); \coordinate (b27) at (1481,839);
\draw [link,<->] plot [smooth] coordinates {(a27) (1643,713) (1517,789) (b27)};
\coordinate (a28) at (1696,802); \coordinate (b28) at (1792,1046);
\draw [link,<->] (a28) .. controls (1700,880) and (1730,980) .. (b28);
\coordinate (a29) at (2110,472); \coordinate (b29) at (2074,615);
\draw [link,<->] (a29) .. controls (2077,510) and (2070,570) .. (b29);
\coordinate (a30) at (2052,528); \coordinate (b30) at (2218,1150);
\draw [link,<->] (a30) .. controls (2045,470) and (2120,435) .. (2132,507) -- (2132,1180) .. controls (2132,1240) and (2218,1250) .. (b30);
\coordinate (a31) at (1918,402); \coordinate (b31) at (2034,287);
\draw [link,<->] (a31) .. controls (1930,340) and (1975,300) .. (b31);
\coordinate (a34) at (2198,503); \coordinate (b34) at (2008,839);
\draw [link,<->] plot [smooth] coordinates {(a34) (2197,533) (2177,593) (2100,718) (b34)};
\coordinate (a35) at (2302,566); \coordinate (b35) at (2222,623);
\draw [link,<->] (a35) .. controls (2255,570) and (2230,590) .. (b35);
\coordinate (a36) at (2319,483); \coordinate (b36) at (2444,567);
\draw [link,<->] (a36) .. controls (2370,480) and (2400,560) .. (b36);
\coordinate (a37) at (2120,641); \coordinate (b37) at (2167,687);
\draw [link,<->] (a37) .. controls (2135,650) and (2150,675) .. (b37);
\coordinate (a38) at (2303,718); \coordinate (b38) at (2295,794);
\draw [link,<->] (a38) .. controls (2285,745) and (2310,765) .. (b38);
\coordinate (a39) at (2545,745); \coordinate (b39) at (2495,1159);
\draw [link,<->,rounded corners=6pt] (a39) -- (2584,745) -- (2584,1159) -- (b39);
\coordinate (a40) at (2351,846); \coordinate (b40) at (2036,1593);
\draw [link,<->] plot [smooth] coordinates {(a40) (2345,986) (2309,1146) (2284,1230) (2207,1385) (2115,1505) (b40)};
\coordinate (a41) at (2393,1207); \coordinate (b41) at (2184,1478);
\draw [link,<->] plot [smooth] coordinates {(a41) (2370,1270) (2268,1412) (b41)};
\coordinate (a42) at (2271,1247); \coordinate (b42) at (2309,1297);
\draw [link,<->] (a42) .. controls (2295,1245) and (2310,1270) .. (b42);
\coordinate (a43) at (2193,1009); \coordinate (b43) at (2263,1046);
\draw [link,<->] (a43) .. controls (2225,1005) and (2250,1030) .. (b43);
\coordinate (a44) at (2436,1064); \coordinate (b44) at (2478,1109);
\draw [link,<->] (a44) .. controls (2470,1065) and (2490,1085) .. (b44);
\coordinate (a45) at (2330,1010); \coordinate (b45) at (2284,1166);
\draw [link,<->] (a45) .. controls (2255,1030) and (2255,1120) .. (b45);
\coordinate (a46) at (2613,975); \coordinate (b46) at (2546,1040);
\draw [link,<->] (a46) .. controls (2615,1010) and (2590,1040) .. (b46);
\coordinate (a47) at (1883,1023); \coordinate (b47) at (1790,1785);
\draw [link,<-] plot [smooth] coordinates {(a47) (1885,1230) (1873,1402) (1850,1557) (1804,1729) (b47)};
\coordinate (a48) at (1798,1218); \coordinate (b48) at (1825,1785);
\draw [link,<-] plot [smooth] coordinates {(a48) (1761,1471) (1804,1671) (b48)};
\coordinate (a49) at (1631,1136); \coordinate (b49) at (1606,1557);
\draw [link,<->] plot [smooth] coordinates {(a49) (1574,1230) (1548,1368) (1565,1488) (b49)};
\coordinate (a50) at (1456,937); \coordinate (b50) at (1666,1785);
\draw [link,<-] plot [smooth] coordinates {(a50) (1517,1104) (1554,1230) (1608,1402) (1637,1557) (b50)};
\coordinate (a51) at (1298,918); \coordinate (b51) at (1560,1164);
\draw [link,<->] plot [smooth] coordinates {(a51) (1321,1004) (1390,1075) (b51)};
\coordinate (a52) at (1382,989); \coordinate (b52) at (1250,1221);
\draw [link,<->] plot [smooth] coordinates {(a52) (1344,1057) (1253,1146) (b52)};
\coordinate (a53) at (1212,918); \coordinate (b53) at (1261,1342);
\draw [link,<->] plot [smooth] coordinates {(a53) (1166,1004) (1141,1111) (1149,1200) (1172,1230) (1201,1299) (b53)};
\coordinate (a54) at (1168,1123); \coordinate (b54) at (1170,1785);
\draw [link,<-] (a54) -- (b54);
\coordinate (a55) at (1284,1123); \coordinate (b55) at (1109,1617);
\draw [link,<->] plot [smooth] coordinates {(a55) (1316,1230) (1304,1368) (1230,1523) (b55)};
\coordinate (a56) at (1057,1229); \coordinate (b56) at (1359,1172);
\draw [link,<->] (a56) .. controls (1120,1180) and (1230,1150) .. (b56);
\coordinate (a57) at (1459,1060); \coordinate (b57) at (1563,1114);
\draw [link,<->] (a57) .. controls (1500,1075) and (1520,1110) .. (b57);
\coordinate (a58) at (1692,1061); \coordinate (b58) at (2036,1095);
\draw [link,<->] (a58) -- (b58);
\coordinate (a59) at (1850,1136); \coordinate (b59) at (1963,1189);
\draw [link,<->] (a59) .. controls (1900,1140) and (1930,1160) .. (b59);
\coordinate (a60) at (1675,1211); \coordinate (b60) at (1741,1230);
\draw [link,<->] (a60) .. controls (1700,1210) and (1725,1215) .. (b60);
\coordinate (a61) at (1962,1232); \coordinate (b61) at (2011,1649);
\draw [link,<->] plot [smooth] coordinates {(a61) (1942,1426) (1972,1592) (b61)};
\coordinate (a62) at (1975,1528); \coordinate (b62) at (1393,1609);
\draw [link,<->,rounded corners=6pt] (a62) -- (1975,1693) -- (1393,1693) -- (b62);
\coordinate (a63) at (2062,1271); \coordinate (b63) at (1752,1320);
\draw [link,<->] (a63) .. controls (1950,1285) and (1850,1295) .. (b63);
\coordinate (a64) at (2049,1426); \coordinate (b64) at (2138,1545);
\draw [link,<->] (a64) .. controls (2030,1470) and (2130,1490) .. (b64);
\coordinate (a65) at (2442,1404); \coordinate (b65) at (2289,1456);
\draw [link,<->] (a65) .. controls (2360,1402) and (2300,1410) .. (b65);
\coordinate (a66) at (2390,1546); \coordinate (b66) at (2266,1648);
\draw [link,<->] (a66) .. controls (2310,1560) and (2275,1610) .. (b66);
\coordinate (a67) at (2447,1341); \coordinate (b67) at (2512,1752);
\draw [link,<->,rounded corners=6pt] (a67) -- (2572,1341) -- (2572,1752) -- (b67);
\coordinate (a68) at (1626,1363); \coordinate (b68) at (1123,1452);
\draw [link,<->] plot [smooth] coordinates {(a68) (1545,1423) (1471,1433) (1344,1419) (1230,1412) (b68)};
\coordinate (a69) at (1476,1344); \coordinate (b69) at (1442,1408);
\draw [link,<->] (a69) .. controls (1510,1360) and (1495,1415) .. (b69);
\coordinate (a70) at (1133,1404); \coordinate (b70) at (1261,1493);
\draw [link,<->] (a70) .. controls (1150,1450) and (1190,1490) .. (b70);
\coordinate (a71) at (1244,1652); \coordinate (b71) at (1023,1785);
\draw [link,<-] (a71) .. controls (1140,1645) and (1080,1690) .. (b71);
\coordinate (a72) at (1047,1566); \coordinate (b72) at (1260,1785);
\draw [link,<-] plot [smooth] coordinates {(a72) (1075,1643) (b72)};
\coordinate (a73) at (1459,1722); \coordinate (b73) at (1405,1785);
\draw [link,<-] (a73) -- (b73);
\coordinate (a74) at (625,1394); \coordinate (b74) at (929,1752);
\draw [link,<->] plot [smooth] coordinates {(a74) (625,1471) (663,1609) (750,1705) (852,1750) (b74)};
\coordinate (a75) at (827,1342); \coordinate (b75) at (896,1380);
\draw [link,<->] (a75) .. controls (850,1375) and (870,1378) .. (b75);
\coordinate (a76) at (743,1492); \coordinate (b76) at (846,1466);
\draw [link,<->] (a76) .. controls (775,1465) and (810,1467) .. (b76);
\coordinate (a77) at (916,1509); \coordinate (b77) at (964,1633);
\draw [link,<->] (a77) .. controls (910,1560) and (935,1610) .. (b77);
\coordinate (a79) at (516,1371); \coordinate (b79) at (410,1585);
\draw [link,<->] (a79) .. controls (450,1410) and (400,1500) .. (b79);
\coordinate (a80) at (462,1519); \coordinate (b80) at (510,1785);
\draw [link,<-] plot [smooth] coordinates {(a80) (434,1609) (b80)};
\coordinate (a81) at (707,1037); \coordinate (b81) at (495,1667);
\draw [link,<->] plot [smooth] coordinates {(a81) (648,1114) (623,1230) (577,1471) (b81)};
\coordinate (a82) at (852,1702); \coordinate (b82) at (812,1785);
\draw [link,<-] (a82) -- (b82);
\coordinate (a83) at (959,1244); \coordinate (b83) at (312,1785);
\draw [link,<-,rounded corners=6pt] (a83) -- (312,1244) -- (b83);
\coordinate (a84) at (1046,1103); \coordinate (b84) at (837,1423);
\draw [link,<->] plot [smooth] coordinates {(a84) (896,1230) (b84)};
\coordinate (a85) at (408,792); \coordinate (b85) at (521,829);
\draw [link,<->] (a85) .. controls (425,860) and (490,860) .. (b85);
\coordinate (a86) at (490,874); \coordinate (b86) at (411,1170);
\draw [link,<->,rounded corners=6pt] (a86) -- (281,874) -- (281,1170) -- (b86);
\coordinate (a87) at (605,874); \coordinate (b87) at (661,1012);
\draw [link,<->] (a87) .. controls (650,880) and (665,950) .. (b87);
\coordinate (a88) at (689,842); \coordinate (b88) at (696,882);
\draw [link,<->] (a88) .. controls (680,855) and (683,870) .. (b88);
\coordinate (a89) at (587,1108); \coordinate (b89) at (610,1075);
\draw [link,<->] (a89) .. controls (600,1105) and (612,1090) .. (b89);
\coordinate (a91) at (737,674); \coordinate (b91) at (729,765);
\draw [link,<->] (a91) .. controls (750,700) and (752,735) .. (b91);
\coordinate (a92) at (903,778); \coordinate (b92) at (1095,876);
\draw [link,<->] (a92) .. controls (930,830) and (1000,875) .. (b92);
\coordinate (a93) at (893,899); \coordinate (b93) at (956,952);
\draw [link,<->] (a93) .. controls (915,900) and (945,935) .. (b93);
\coordinate (a94) at (893,973); \coordinate (b94) at (1244,1055);
\draw [link,<->] (a94) .. controls (940,1040) and (1070,1075) .. (b94);
\end{scope}
\end{tikzpicture}
\end{document}
